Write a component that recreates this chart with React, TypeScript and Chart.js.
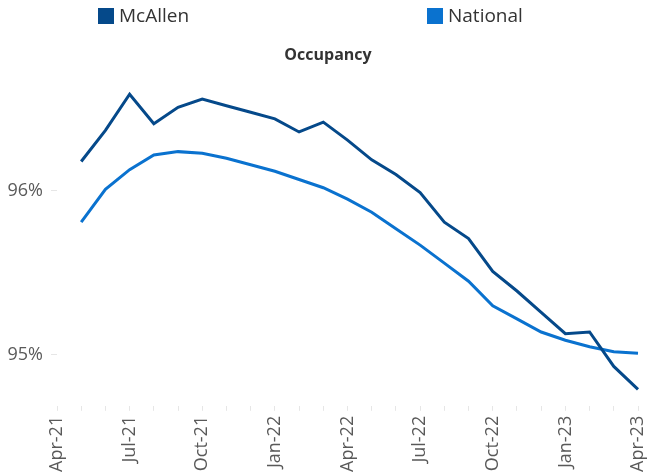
import React, { useEffect, useRef } from "react";
import { Chart, registerables } from "chart.js";

Chart.register(...registerables);

const months = [
  "Apr-21", "May-21", "Jun-21", "Jul-21", "Aug-21", "Sep-21", "Oct-21", "Nov-21", "Dec-21",
  "Jan-22", "Feb-22", "Mar-22", "Apr-22", "May-22", "Jun-22", "Jul-22", "Aug-22", "Sep-22",
  "Oct-22", "Nov-22", "Dec-22", "Jan-23", "Feb-23", "Mar-23", "Apr-23",
];

const mcallen = [
  null, 96.18, 96.37, 96.59, 96.41, 96.51, 96.56, 96.52, 96.48,
  96.44, 96.36, 96.42, 96.31, 96.19, 96.1, 95.99, 95.81, 95.71,
  95.51, 95.39, 95.26, 95.13, 95.14, 94.93, 94.79,
];

const national = [
  null, 95.81, 96.01, 96.13, 96.22, 96.24, 96.23, 96.2, 96.16,
  96.12, 96.07, 96.02, 95.95, 95.87, 95.77, 95.67, 95.56, 95.45,
  95.3, 95.22, 95.14, 95.09, 95.05, 95.02, 95.01,
];

const yTickValues = [95, 96];
const seriesNames = ["McAllen", "National"];
const seriesColors = ["#05498A", "#0A72CF"];
const titleText = "Occupancy";

const legendPlugin = {
  id: "customLegend",
  afterLayout(chart: any) {
    const tb = chart.titleBlock;
    if (tb) {
      tb.left += 18;
      tb.right += 0;
    }
  },
  afterDraw(chart: any) {
    const ctx = chart.ctx;
    const positions = [98, 427];
    ctx.save();
    ctx.font = "19px 'Open Sans'";
    ctx.textBaseline = "middle";
    ctx.textAlign = "left";
    chart.data.datasets.forEach((ds: any, i: number) => {
      const x = positions[i];
      ctx.fillStyle = ds.borderColor;
      ctx.fillRect(x, 8, 16, 16);
      ctx.fillStyle = "#333333";
      ctx.fillText(ds.label, x + 21, 17);
    });
    ctx.restore();
  },
};

export default function App() {
  const ref = useRef<HTMLCanvasElement | null>(null);

  useEffect(() => {
    document.body.style.margin = "0";
    if (!ref.current) return;
    const chart = new Chart(ref.current, {
      type: "line",
      data: {
        labels: months,
        datasets: [
          {
            label: seriesNames[0],
            data: mcallen,
            borderColor: seriesColors[0],
            backgroundColor: seriesColors[0],
            borderWidth: 3,
            pointRadius: 0,
            tension: 0,
          },
          {
            label: seriesNames[1],
            data: national,
            borderColor: seriesColors[1],
            backgroundColor: seriesColors[1],
            borderWidth: 3,
            pointRadius: 0,
            tension: 0,
          },
        ],
      },
      options: {
        animation: false,
        responsive: false,
        layout: { padding: { left: 0, right: 9, top: 35, bottom: 0 } },
        plugins: {
          legend: { display: false },
          tooltip: { enabled: false },
          title: {
            display: true,
            text: titleText,
            color: "#333333",
            font: { family: "'Open Sans'", size: 16, weight: "bold" },
            padding: { top: 10.4, bottom: 19.8 },
          },
        },
        scales: {
          x: {
            offset: false,
            border: { display: false },
            grid: {
              display: true,
              drawOnChartArea: false,
              drawTicks: true,
              tickLength: 5,
              color: "#e6e6e6",
            },
            ticks: {
              autoSkip: false,
              minRotation: 90,
              maxRotation: 90,
              padding: 5,
              color: "#595959",
              font: { family: "'Open Sans'", size: 18 },
              callback: (_v: any, i: number) => (i % 3 === 0 ? months[i] : ""),
            },
            afterFit: (scale: any) => {
              scale.height = 69.2;
              scale.paddingLeft = 0;
              scale.paddingRight = 0;
            },
          },
          y: {
            min: 94.69,
            max: 96.65,
            border: { display: false },
            grid: {
              display: true,
              drawOnChartArea: false,
              drawTicks: true,
              tickLength: 6,
              color: "#e6e6e6",
            },
            ticks: {
              padding: 8,
              color: "#595959",
              font: { family: "'Open Sans'", size: 18 },
              callback: (v: any) => `${v}%`,
            },
            afterBuildTicks: (scale: any) => {
              scale.ticks = yTickValues.map((value) => ({ value }));
            },
            afterFit: (scale: any) => {
              scale.width = 57;
              scale.paddingTop = 0;
              scale.paddingBottom = 0;
            },
          },
        },
      },
      plugins: [legendPlugin],
    });
    return () => chart.destroy();
  }, []);

  return <canvas ref={ref} width={647} height={475} style={{ display: "block" }} />;
}
